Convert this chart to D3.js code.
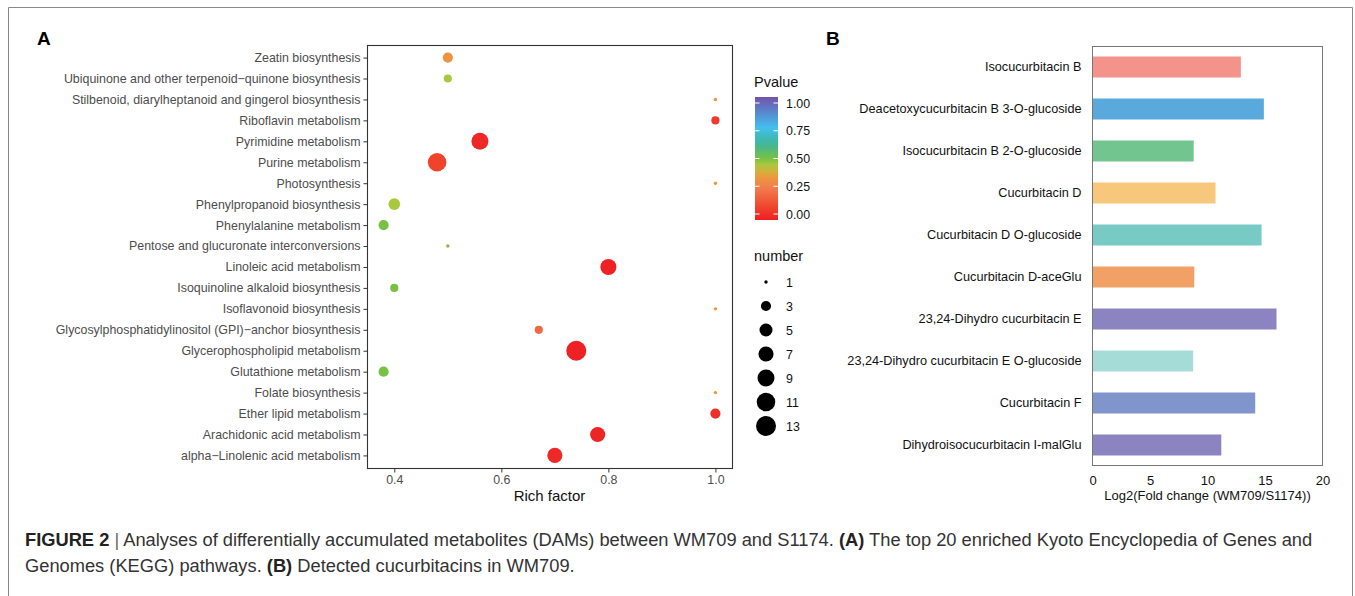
<!DOCTYPE html>
<html>
<head>
<meta charset="utf-8">
<script src="https://cdn.jsdelivr.net/npm/d3@7.9.0/dist/d3.min.js"></script>
<style>
  body { margin: 0; background: #fff; }
  svg { display: block; font-family: "Liberation Sans", Arial, sans-serif; }
</style>
</head>
<body>
<svg id="fig" width="1355" height="596"></svg>
<script>
// ---- panel A data (KEGG enrichment) ----
const pathways = [
  'Zeatin biosynthesis',
  'Ubiquinone and other terpenoid\u2212quinone biosynthesis',
  'Stilbenoid, diarylheptanoid and gingerol biosynthesis',
  'Riboflavin metabolism',
  'Pyrimidine metabolism',
  'Purine metabolism',
  'Photosynthesis',
  'Phenylpropanoid biosynthesis',
  'Phenylalanine metabolism',
  'Pentose and glucuronate interconversions',
  'Linoleic acid metabolism',
  'Isoquinoline alkaloid biosynthesis',
  'Isoflavonoid biosynthesis',
  'Glycosylphosphatidylinositol (GPI)\u2212anchor biosynthesis',
  'Glycerophospholipid metabolism',
  'Glutathione metabolism',
  'Folate biosynthesis',
  'Ether lipid metabolism',
  'Arachidonic acid metabolism',
  'alpha\u2212Linolenic acid metabolism'
];
const richFactor = [0.5, 0.5, 1.0, 1.0, 0.56, 0.48, 1.0, 0.4, 0.38, 0.5,
                    0.8, 0.4, 1.0, 0.67, 0.74, 0.38, 1.0, 1.0, 0.78, 0.7];
const pvalue = [0.33, 0.45, 0.35, 0.08, 0.03, 0.1, 0.35, 0.45, 0.5, 0.5,
                0.01, 0.5, 0.35, 0.2, 0.01, 0.5, 0.35, 0.05, 0.02, 0.03];
const number = [3, 2, 1, 2, 9, 11, 1, 4, 3, 1,
                8, 2, 1, 2, 13, 3, 1, 3, 7, 7];
const xTicksA = [0.4, 0.6, 0.8, 1.0];
const pTicks = [0, 0.25, 0.5, 0.75, 1];
const sizeBreaks = [1, 3, 5, 7, 9, 11, 13];

// ---- panel B data (cucurbitacins) ----
const compounds = [
  'Isocucurbitacin B',
  'Deacetoxycucurbitacin B 3-O-glucoside',
  'Isocucurbitacin B 2-O-glucoside',
  'Cucurbitacin D',
  'Cucurbitacin D O-glucoside',
  'Cucurbitacin D-aceGlu',
  '23,24-Dihydro cucurbitacin E',
  '23,24-Dihydro cucurbitacin E O-glucoside',
  'Cucurbitacin F',
  'Dihydroisocucurbitacin I-malGlu'
];
const log2fc = [12.9, 14.9, 8.8, 10.7, 14.7, 8.85, 16.0, 8.75, 14.15, 11.2];
const barColors = ['#f3938a', '#5aa9dc', '#72c58e', '#f7c87b', '#78cbc5',
                   '#f1a066', '#8b84c0', '#a6dcd8', '#7f95cb', '#8b84c0'];
const xTicksB = [0, 5, 10, 15, 20];

const svg = d3.select('#fig');

// outer figure frame
svg.append('path')
  .attr('d', 'M8.5,600V7.5H1352.5V600')
  .attr('fill', 'none')
  .attr('stroke', '#8a8a8a')
  .attr('stroke-width', 1);

// panel letters
svg.append('text').attr('x', 37).attr('y', 45)
  .attr('font-size', 19).attr('font-weight', 'bold').text('A');
svg.append('text').attr('x', 826).attr('y', 45)
  .attr('font-size', 19).attr('font-weight', 'bold').text('B');

// ================= Panel A =================
const boxA = {left: 367, right: 732, top: 45, bottom: 468};

let ext = d3.extent(richFactor);
let pad = (ext[1] - ext[0]) * 0.05;
let x = d3.scaleLinear().domain([ext[0] - pad, ext[1] + pad]).range([boxA.left, boxA.right]);
let y = d3.scalePoint().domain(pathways).range([boxA.top, boxA.bottom]).padding(0.6);

let pColor = d3.scaleLinear()
  .domain([0, 0.12, 0.25, 0.36, 0.44, 0.5, 0.62, 0.75, 0.88, 1])
  .range(['#ee1d23', '#ef4a2e', '#f2794c', '#eb9c3c', '#b4c93c', '#78c144', '#3fb59a', '#41c0ee', '#5a86cc', '#7452a8'])
  .clamp(true);

let sizeNorm = d3.scaleLinear().domain([1, 13]).range([0, 1]);
let radius = d3.scaleLinear().domain([0, 1]).range([1.7, 10]);
const r = (n) => radius(Math.sqrt(sizeNorm(n)));

let gA = svg.append('g');

// points, biggest first so small ones stay visible
let order = d3.range(pathways.length).sort((a, b) => number[b] - number[a]);
order.forEach((i) => {
  gA.append('circle')
    .attr('cx', x(richFactor[i]))
    .attr('cy', y(pathways[i]))
    .attr('r', r(number[i]))
    .attr('fill', pColor(pvalue[i]));
});

gA.append('rect')
  .attr('x', boxA.left + 0.5).attr('y', boxA.top + 0.5)
  .attr('width', boxA.right - boxA.left).attr('height', boxA.bottom - boxA.top)
  .attr('fill', 'none').attr('stroke', '#333').attr('stroke-width', 1.1);

let yAxisA = gA.append('g')
  .attr('transform', `translate(${boxA.left + 0.5},0)`)
  .call(d3.axisLeft(y).tickSize(4).tickPadding(3));
yAxisA.select('.domain').remove();
yAxisA.selectAll('line').attr('stroke', '#333');
yAxisA.selectAll('text').attr('fill', '#4d4d4d').attr('font-size', 12.4)
  .attr('font-family', '"Liberation Sans", Arial, sans-serif');

let xAxisA = gA.append('g')
  .attr('transform', `translate(0,${boxA.bottom + 0.5})`)
  .call(d3.axisBottom(x).tickValues(xTicksA).tickFormat(d3.format('.1f')).tickSize(4).tickPadding(3));
xAxisA.select('.domain').remove();
xAxisA.selectAll('line').attr('stroke', '#333');
xAxisA.selectAll('text').attr('fill', '#4d4d4d').attr('font-size', 12.4)
  .attr('font-family', '"Liberation Sans", Arial, sans-serif');

gA.append('text')
  .attr('x', (boxA.left + boxA.right) / 2).attr('y', 501)
  .attr('text-anchor', 'middle').attr('font-size', 15).attr('fill', '#111')
  .text('Rich factor');

// ---- legends ----
let leg = svg.append('g');
leg.append('text').attr('x', 754).attr('y', 87).attr('font-size', 14.5).attr('fill', '#111').text('Pvalue');

let grad = svg.append('defs').append('linearGradient')
  .attr('id', 'pgrad').attr('x1', 0).attr('x2', 0).attr('y1', 1).attr('y2', 0);
d3.range(0, 1.0001, 0.05).forEach((t) => {
  grad.append('stop').attr('offset', t).attr('stop-color', pColor(t));
});

let barY = d3.scaleLinear().domain([0, 1]).range([214, 103]);
leg.append('rect')
  .attr('x', 755).attr('y', barY(1) - 6)
  .attr('width', 23).attr('height', barY(0) - barY(1) + 12)
  .attr('fill', 'url(#pgrad)');
pTicks.forEach((t) => {
  leg.append('line').attr('x1', 755).attr('x2', 759.5)
    .attr('y1', barY(t)).attr('y2', barY(t)).attr('stroke', '#fff').attr('stroke-width', 1);
  leg.append('line').attr('x1', 773.5).attr('x2', 778)
    .attr('y1', barY(t)).attr('y2', barY(t)).attr('stroke', '#fff').attr('stroke-width', 1);
  leg.append('text').attr('x', 786).attr('y', barY(t) + 4.5)
    .attr('font-size', 12.4).attr('fill', '#111').text(d3.format('.2f')(t));
});

leg.append('text').attr('x', 754).attr('y', 261).attr('font-size', 14.5).attr('fill', '#111').text('number');
let keyY = d3.scalePoint().domain(sizeBreaks).range([282, 426]);
sizeBreaks.forEach((n) => {
  leg.append('circle').attr('cx', 766).attr('cy', keyY(n)).attr('r', r(n)).attr('fill', '#000');
  leg.append('text').attr('x', 786).attr('y', keyY(n) + 4.5)
    .attr('font-size', 12.4).attr('fill', '#111').text(n);
});

// ================= Panel B =================
const boxB = {left: 1092.5, right: 1322.5, top: 46, bottom: 466};

let xb = d3.scaleLinear().domain([0, 20]).range([boxB.left, boxB.right]);
let yb = d3.scaleBand().domain(compounds).range([boxB.top, boxB.bottom])
  .paddingInner(0.5).paddingOuter(0.25);

let gB = svg.append('g');
compounds.forEach((c, i) => {
  gB.append('rect')
    .attr('x', xb(0)).attr('y', yb(c))
    .attr('width', xb(log2fc[i]) - xb(0)).attr('height', yb.bandwidth())
    .attr('fill', barColors[i]);
});

gB.append('rect')
  .attr('x', boxB.left).attr('y', boxB.top + 0.5)
  .attr('width', boxB.right - boxB.left).attr('height', boxB.bottom - boxB.top - 1)
  .attr('fill', 'none').attr('stroke', '#777').attr('stroke-width', 1);

let yAxisB = gB.append('g')
  .attr('transform', `translate(${boxB.left},0)`)
  .call(d3.axisLeft(yb).tickSize(0).tickPadding(11));
yAxisB.select('.domain').remove();
yAxisB.selectAll('text').attr('fill', '#111').attr('font-size', 12.7)
  .attr('font-family', '"Liberation Sans", Arial, sans-serif');

let xAxisB = gB.append('g')
  .attr('transform', `translate(0,${boxB.bottom})`)
  .call(d3.axisBottom(xb).tickValues(xTicksB).tickSize(0).tickPadding(10));
xAxisB.select('.domain').remove();
xAxisB.selectAll('text').attr('fill', '#111').attr('font-size', 13)
  .attr('font-family', '"Liberation Sans", Arial, sans-serif');

gB.append('text')
  .attr('x', (boxB.left + boxB.right) / 2).attr('y', 500)
  .attr('text-anchor', 'middle').attr('font-size', 13).attr('fill', '#111')
  .text('Log2(Fold change (WM709/S1174))');

// ================= caption =================
let cap = svg.append('g').attr('font-size', 18.3).attr('fill', '#333');
let line1 = cap.append('text').attr('x', 25).attr('y', 546);
line1.append('tspan').attr('font-weight', 'bold').attr('fill', '#222').text('FIGURE 2');
line1.append('tspan').attr('fill', '#666').text('  |  ');
line1.append('tspan').text('Analyses of differentially accumulated metabolites (DAMs) between WM709 and S1174. ');
line1.append('tspan').attr('font-weight', 'bold').attr('fill', '#222').text('(A)');
line1.append('tspan').text(' The top 20 enriched Kyoto Encyclopedia of Genes and');
let line2 = cap.append('text').attr('x', 25).attr('y', 572);
line2.append('tspan').text('Genomes (KEGG) pathways. ');
line2.append('tspan').attr('font-weight', 'bold').attr('fill', '#222').text('(B)');
line2.append('tspan').text(' Detected cucurbitacins in WM709.');
</script>
</body>
</html>
